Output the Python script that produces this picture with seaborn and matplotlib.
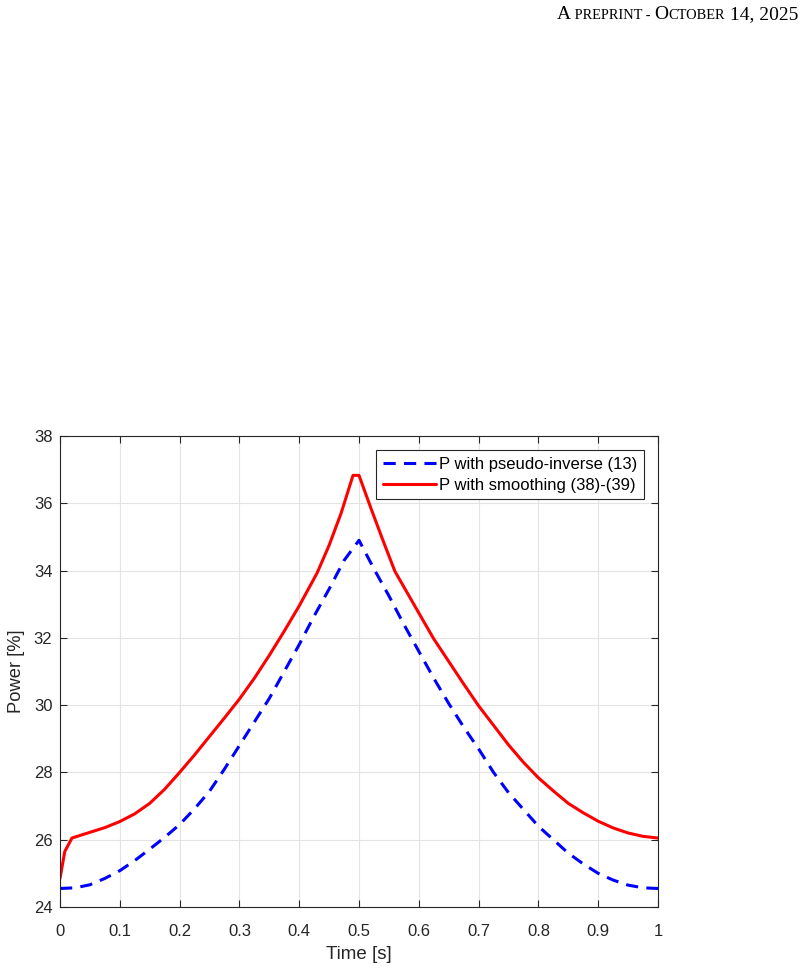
import numpy as np
import pandas as pd
import matplotlib
matplotlib.use("Agg")
import matplotlib.pyplot as plt
import seaborn as sns

# ---- data ----
t_pinv = [0.0, 0.025, 0.05, 0.075, 0.1, 0.125, 0.15, 0.175, 0.2, 0.225, 0.25, 0.275,
          0.3, 0.325, 0.35, 0.375, 0.4, 0.425, 0.45, 0.475, 0.5, 0.525, 0.55, 0.575,
          0.6, 0.625, 0.65, 0.675, 0.7, 0.725, 0.75, 0.775, 0.8, 0.825, 0.85, 0.875,
          0.9, 0.925, 0.95, 0.975, 1.0]
p_pinv = [24.55, 24.57, 24.66, 24.85, 25.08, 25.38, 25.72, 26.07, 26.45, 26.92, 27.44, 28.10,
          28.80, 29.50, 30.20, 31.00, 31.80, 32.65, 33.45, 34.30, 34.90, 34.05, 33.25, 32.40,
          31.60, 30.80, 30.05, 29.35, 28.70, 28.00, 27.40, 26.90, 26.40, 26.00, 25.60, 25.28,
          25.00, 24.80, 24.65, 24.57, 24.55]

t_smooth = [0.0, 0.008, 0.02, 0.05, 0.075, 0.1, 0.125, 0.15, 0.175, 0.2, 0.225, 0.25, 0.275,
            0.3, 0.325, 0.35, 0.375, 0.4, 0.43, 0.45, 0.47, 0.49, 0.5, 0.52, 0.54, 0.56,
            0.6, 0.625, 0.65, 0.675, 0.7, 0.725, 0.75, 0.775, 0.8, 0.825, 0.85, 0.875,
            0.9, 0.925, 0.95, 0.975, 1.0]
p_smooth = [24.85, 25.65, 26.05, 26.22, 26.36, 26.54, 26.77, 27.08, 27.50, 28.00, 28.52, 29.07, 29.62,
            30.18, 30.80, 31.48, 32.20, 32.95, 33.93, 34.75, 35.70, 36.83, 36.83, 35.85, 34.90, 33.98,
            32.74, 31.97, 31.30, 30.63, 29.98, 29.40, 28.82, 28.30, 27.84, 27.45, 27.08, 26.80,
            26.55, 26.35, 26.20, 26.10, 26.05]

label_pinv = "P with pseudo-inverse (13)"
label_smooth = "P with smoothing (38)-(39)"
x_ticks = [0, 0.1, 0.2, 0.3, 0.4, 0.5, 0.6, 0.7, 0.8, 0.9, 1]
x_tick_labels = ["0", "0.1", "0.2", "0.3", "0.4", "0.5", "0.6", "0.7", "0.8", "0.9", "1"]
y_ticks = [24, 26, 28, 30, 32, 34, 36, 38]
header_pieces = [("A", "big"), (" PREPRINT - ", "small"), ("O", "big"),
                 ("CTOBER", "small"), (" 14, 2025", "big")]

# ---- styling ----
sns.set_theme(style="white")
plt.rcParams["font.family"] = ["Liberation Sans", "DejaVu Sans"]
dark = "#262626"

fig = plt.figure(figsize=(8.07, 9.71), dpi=100)
ax = fig.add_axes([60 / 807, 1 - 907 / 971, 598 / 807, 471 / 971])

df_p = pd.DataFrame({"t": t_pinv, "p": p_pinv})
df_s = pd.DataFrame({"t": t_smooth, "p": p_smooth})

sns.lineplot(data=df_p, x="t", y="p", ax=ax, color="#0000ff", linewidth=2.2,
             linestyle=(0, (4.0, 2.7)), label=label_pinv, sort=False)
sns.lineplot(data=df_s, x="t", y="p", ax=ax, color="#ff0000", linewidth=2.2,
             label=label_smooth, sort=False)

ax.set_xlim(0, 1)
ax.set_ylim(24, 38)
ax.set_xticks(x_ticks)
ax.set_xticklabels(x_tick_labels)
ax.set_yticks(y_ticks)
ax.grid(True, color="#e3e3e3", linewidth=0.8)
ax.set_axisbelow(True)
for s in ax.spines.values():
    s.set_visible(True)
    s.set_color(dark)
    s.set_linewidth(0.8)
ax.tick_params(axis="both", which="both", direction="in", length=5, width=0.8,
               color=dark, labelcolor=dark, labelsize=12, top=True, right=True,
               bottom=True, left=True)
ax.tick_params(axis="x", pad=12)
ax.tick_params(axis="y", pad=5.5)
ax.set_xlabel("Time [s]", fontsize=13.5, color=dark, labelpad=5)
ax.set_ylabel("Power [%]", fontsize=13.2, color=dark, labelpad=6)

leg = ax.legend(loc="upper right", bbox_to_anchor=(0.977, 0.970), borderaxespad=0,
                fontsize=12, fancybox=False, framealpha=1, edgecolor=dark,
                handlelength=3.2, handletextpad=0.2, borderpad=0.4, labelspacing=0.35)
leg.get_frame().set_linewidth(0.8)
for txt in leg.get_texts():
    txt.set_color("black")

# ---- header (small caps emulation), right-aligned at x=798 px ----
sizes = {"big": 14.0, "small": 10.4}
serif = ["Liberation Serif", "DejaVu Serif"]
fig.canvas.draw()
renderer = fig.canvas.get_renderer()
W, H = fig.bbox.width, fig.bbox.height
texts = []
widths = []
for txt, kind in header_pieces:
    t = fig.text(0, 1 - 19 / 971, txt, fontsize=sizes[kind], family=serif,
                 ha="left", va="baseline", color="black")
    texts.append(t)
    widths.append(t.get_window_extent(renderer).width)
x = 798 - sum(widths)
for t, w in zip(texts, widths):
    t.set_x(x / W)
    x += w

fig.savefig("out.png", dpi=100)
